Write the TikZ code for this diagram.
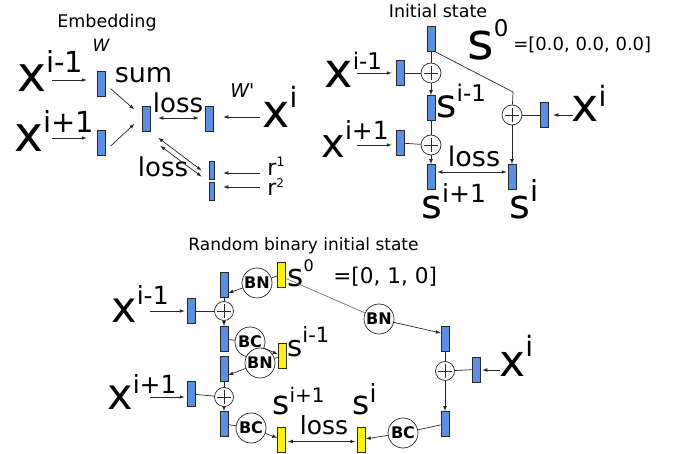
\documentclass[tikz,border=0pt]{standalone}
\usepackage{fontspec}
\setmainfont{DejaVu Sans}
\newfontfamily\rawsans{DejaVu Sans}
\usepackage{tikz}
\definecolor{blkblue}{RGB}{91,142,230}
\definecolor{edgegray}{RGB}{40,40,40}
\usetikzlibrary{arrows,positioning}
\newcommand{\fs}[1]{\fontsize{#1}{#1}\selectfont}
\newcommand{\vlab}[5]{{\fs{#1}#2}\raisebox{#3pt}{\fs{#4}#5}}

\begin{document}
\begin{tikzpicture}[x=1pt, y=-1pt, >=latex, line width=0.7pt, draw=edgegray,
		blk/.style={draw=edgegray, fill=blkblue, minimum width=8pt, minimum height=25pt, inner sep=0pt},
		yblk/.style={blk, fill=yellow},
		rblk/.style={blk, minimum width=5pt, minimum height=18pt},
		opc/.style={circle, draw=edgegray, fill=white, minimum size=30pt, inner sep=0pt, font=\bfseries\fs{16}},
		plus/.style={circle, draw=edgegray, fill=white, minimum size=20pt, inner sep=0pt,
			path picture={\draw[edgegray] (path picture bounding box.center) +(-7pt,0) -- +(7pt,0) +(0,-7pt) -- +(0,7pt);}},
		lbl/.style={inner sep=0pt, anchor=base west},
		txt/.style={inner sep=0pt, anchor=base}]
	\useasboundingbox (0,0) rectangle (678,454);
	%Embedding
	\node[txt, font=\fs{17.5}] (embT) at (107,28) {Embedding};
	\node[txt, font=\itshape\fs{17}] (wlab) at (101,52) {W};
	\node[lbl] (xa) at (17,92) {\vlab{49}{x}{19}{29}{i-1}};
	\node[lbl] (xb) at (14,152) {\vlab{49}{x}{19}{29}{i+1}};
	\node[blk] (ea) at (101,84) {};
	\node[blk] (eb) at (101,143) {};
	\node[blk] (ec) at (146,119) {};
	\node[blk] (ed) at (209,119) {};
	\node[rblk] (ra) at (211.5,170.5) {};
	\node[rblk] (rb) at (211.5,191) {};
	\node[txt, font=\fs{27}] (sum) at (143.5,83) {sum};
	\node[txt, font=\fs{26}] (lossA) at (178,113) {loss};
	\node[txt, font=\fs{26}] (lossB) at (163,177) {loss};
	\node[lbl, font=\rawsans\itshape\fs{19}] (wp) at (230,98) {W'};
	\node[lbl] (xc) at (262,128) {\vlab{46}{x}{20}{28}{i}};
	\node[lbl] (rla) at (267,176) {\vlab{22}{r}{9}{13}{1}};
	\node[lbl] (rlb) at (267,196) {\vlab{22}{r}{8}{12}{2}};
	\coordinate (ta) at (52,80);
	\coordinate (tb) at (52,138);
	\coordinate (tc) at (260,117);
	\coordinate (td) at (260,173);
	\coordinate (te) at (260,187);
	\draw[->, shorten >=10pt] (ta) -- (ta -| ea.west);
	\draw[->, shorten >=10pt] (tb) -- (tb -| eb.west);
	\draw[->, shorten <=7pt, shorten >=10pt] (ea.east) -- ([yshift=3pt]ec.west);
	\draw[->, shorten <=7pt, shorten >=10pt] ([yshift=-8pt]eb.east) -- ([yshift=2pt]ec.west);
	\draw[<->, shorten <=8pt, shorten >=6pt] ([yshift=1pt]ec.east) -- ([yshift=1pt]ed.west);
	\draw[->, shorten >=10pt] (tc) -- (tc -| ed.east);
	\draw[<->] ([shift={(8pt,-6pt)}]ec.south east) -- ([xshift=-7pt]ra.west);
	\draw[<->] ([shift={(10pt,-14pt)}]ec.south east) -- ([shift={(-7pt,5pt)}]rb.north west);
	\draw[->, shorten >=9pt] (td) -- (td -| ra.east);
	\draw[->, shorten >=9pt] (te) -- (te -| rb.east);
	%Initial state
	\node[txt, font=\fs{17.5}] (initT) at (438,18) {Initial state};
	\node[blk] (z0) at (431,39) {};
	\node[lbl] (s0) at (467,60) {\vlab{51}{s}{23}{23}{0}};
	\node[lbl, font=\fs{18}] (s0v) at (513,51) {=[0.0, 0.0, 0.0]};
	\node[lbl] (xd) at (324,88) {\vlab{48}{x}{18}{23}{i-1}};
	\node[blk] (ua) at (400,73) {};
	\node[plus] (pa) at (431,73) {};
	\node[blk] (sa) at (431,108) {};
	\node[lbl] (sal) at (436,118) {\vlab{39}{s}{16}{23}{i-1}};
	\node[lbl] (xe) at (321,158) {\vlab{40}{x}{18}{25}{i+1}};
	\node[blk] (ub) at (400,143) {};
	\node[plus] (pb) at (431,145) {};
	\node[blk] (sb) at (431,177) {};
	\node[lbl] (sbl) at (421,219) {\vlab{40}{s}{16}{25}{i+1}};
	\node[txt, font=\fs{27}] (lossC) at (474,167) {loss};
	\node[blk] (sc) at (512,177) {};
	\node[lbl] (scl) at (509,219) {\vlab{40}{s}{17}{29}{i}};
	\node[plus] (pc) at (512,115) {};
	\node[blk] (uc) at (544,115) {};
	\node[lbl] (xf) at (571,122) {\vlab{46}{x}{15}{28}{i}};
	\coordinate (bend) at (513,92);
	\coordinate (tf) at (357,73);
	\coordinate (tg) at (357,145);
	\coordinate (th) at (573,115);
	\draw (z0) -- (pa);
	\draw (z0.south east) -- (bend) -- (pc);
	\draw[->, shorten >=4pt] (tf) -- (tf -| ua.west);
	\draw (ua) -- (pa);
	\draw[->] (pa) -- (sa);
	\draw (sa) -- (pb);
	\draw[->, shorten >=4pt] (tg) -- (tg -| ub.west);
	\draw (ub) -- (pb);
	\draw[->] (pb) -- (sb);
	\draw[<->, shorten <=2pt, shorten >=1pt] ([yshift=5pt]sb.east) -- ([yshift=5pt]sc.west);
	\draw[->] (pc) -- (sc);
	\draw (uc) -- (pc);
	\draw[->, shorten >=5pt] (th) -- (th -| uc.east);
	%Random binary initial state
	\node[txt, font=\fs{17}] (randT) at (303.5,251) {Random binary initial state};
	\node[blk] (c0) at (224,285) {};
	\node[opc] (bn1) at (257,283) {BN};
	\node[yblk] (y0) at (281.5,274.5) {};
	\node[lbl] (y0l) at (287,287) {\vlab{31}{s}{15}{16}{0}};
	\node[lbl, font=\fs{21.6}] (y0v) at (333,284) {=[0, 1, 0]};
	\node[lbl] (xg) at (111,323) {\vlab{43}{x}{18}{25}{i-1}};
	\node[blk] (va) at (191,311) {};
	\node[plus, minimum size=19pt] (qa) at (224,311) {};
	\node[blk] (c1) at (224,339) {};
	\node[opc] (bc1) at (250,342) {BC};
	\node[yblk] (y1) at (282,356) {};
	\node[lbl] (y1l) at (287,357) {\vlab{29}{s}{14}{21}{i-1}};
	\node[opc] (bn2) at (260,363) {BN};
	\node[blk] (c2) at (224,369) {};
	\node[lbl] (xh) at (107,410) {\vlab{43}{x}{17}{25}{i+1}};
	\node[blk] (vb) at (191,394) {};
	\node[plus, minimum size=19pt] (qb) at (224,397) {};
	\node[blk] (c3) at (224,424) {};
	\node[opc] (bc2) at (251,428) {BC};
	\node[yblk] (y2) at (281.5,439.5) {};
	\node[lbl] (y2l) at (272,415) {\vlab{33}{s}{13}{20}{i+1}};
	\node[txt, font=\fs{25}] (lossD) at (324,435) {loss};
	\node[yblk] (y3) at (361.5,439.5) {};
	\node[lbl] (y3l) at (352,415) {\vlab{33}{s}{13}{25}{i}};
	\node[opc] (bn3) at (379,319) {BN};
	\node[blk] (d1) at (445,339) {};
	\node[plus, minimum size=19pt] (qc) at (445,371) {};
	\node[blk] (vc) at (476,369.5) {};
	\node[lbl] (xi) at (499,377) {\vlab{44}{x}{20}{28}{i}};
	\node[blk] (d2) at (445,424) {};
	\node[opc] (bc3) at (403,433) {BC};
	\coordinate (tx1) at (150,311);
	\coordinate (tx2) at (150,397);
	\coordinate (tx3) at (500,370);
	\draw[black!55] ([yshift=-4pt]y0.east) -- (bn3);
	\draw (y0) -- (bn1);
	\draw[->] (bn1) -- ([yshift=-8pt]c0.east);
	\draw (c0) -- (qa);
	\draw[->, shorten >=2pt] (tx1) -- (tx1 -| va.west);
	\draw (va) -- (qa);
	\draw[->] (qa) -- (c1);
	\draw (c1) -- (bc1);
	\draw[->] (bc1) -- (y1);
	\draw (y1) -- (bn2);
	\draw[->] (bn2) -- ([yshift=-6pt]c2.east);
	\draw (c2) -- (qb);
	\draw[->, shorten >=2pt] (tx2) -- (tx2 -| vb.west);
	\draw (vb) -- (qb);
	\draw[->] (qb) -- (c3);
	\draw (c3) -- (bc2);
	\draw[->] (bc2) -- (y2);
	\draw[<->, shorten <=2pt, shorten >=2pt] ([yshift=-2pt]y2.east) -- ([yshift=-2pt]y3.west);
	\draw[->] (bc3) -- (y3);
	\draw (d2) -- (bc3);
	\draw[->] (qc) -- (d2);
	\draw (vc) -- (qc);
	\draw[->, shorten >=2pt] (tx3) -- (tx3 -| vc.east);
	\draw (d1) -- (qc);
	\draw[->] (bn3) -- ([yshift=6pt]d1.west);
\end{tikzpicture}
\end{document}
